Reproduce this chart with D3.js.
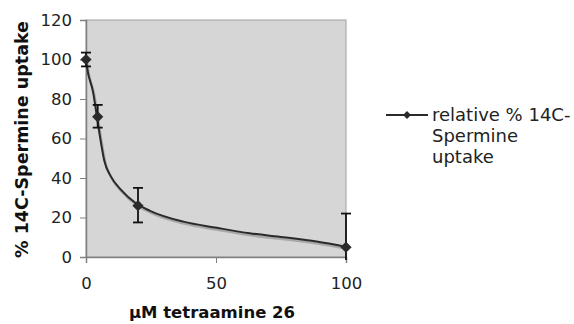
<!DOCTYPE html>
<html>
<head>
<meta charset="utf-8">
<script src="https://cdn.jsdelivr.net/npm/d3@7.9.0/dist/d3.min.js"></script>
<style>
  body { margin: 0; background: #fff; }
  svg { font-family: "DejaVu Sans", Verdana, sans-serif; }
</style>
</head>
<body>
<div id="chart"></div>
<script>
// measured points
const concentration = [0, 4.5, 20, 100];
const uptake = [100, 71, 26, 5];
const errUp = [3.5, 6, 9, 17];
const errDown = [3.5, 5.5, 8.5, 17];

// smooth trend curve
const fitX = [0, 0.4, 2.8, 4.2, 5.8, 7, 9.6, 13.5, 19.2, 24.6, 37.4, 50.3, 63, 75.9, 88.7, 100];
const fitY = [100, 96, 83, 71, 57.6, 49, 40.7, 34, 27.2, 23.4, 17.9, 14.8, 12, 10, 7.8, 5.2];

const yTicks = [0, 20, 40, 60, 80, 100, 120];
const xTicks = [0, 50, 100];

const width = 574, height = 324;
const plot = { left: 86, top: 20, right: 346, bottom: 257 };

const svg = d3.select('#chart')
  .append('svg')
  .attr('width', width)
  .attr('height', height);

const x = d3.scaleLinear().domain([0, 100]).range([plot.left, plot.right]);
const y = d3.scaleLinear().domain([0, 120]).range([plot.bottom, plot.top]);

// plot area
svg.append('rect')
  .attr('x', plot.left)
  .attr('y', plot.top)
  .attr('width', plot.right - plot.left)
  .attr('height', plot.bottom - plot.top)
  .attr('fill', '#d6d6d6')
  .attr('stroke', '#a0a0a0')
  .attr('stroke-width', 1);

// axes
const yAxis = svg.append('g')
  .attr('transform', `translate(${plot.left},0)`)
  .call(d3.axisLeft(y).tickValues(yTicks).tickSize(6).tickPadding(8));

const xAxis = svg.append('g')
  .attr('transform', `translate(0,${plot.bottom})`)
  .call(d3.axisBottom(x).tickValues(xTicks).tickSize(6).tickPadding(14));

[yAxis, xAxis].forEach(g => {
  g.select('.domain').attr('stroke', '#808080').attr('stroke-width', 1.5);
  g.selectAll('.tick line').attr('stroke', '#808080');
  g.selectAll('.tick text')
    .attr('fill', '#222')
    .style('font-size', '16.5px')
    .style('font-family', '"DejaVu Sans", Verdana, sans-serif');
});

// trend curve with soft shadow
const line = d3.line()
  .x((d, i) => x(fitX[i]))
  .y(d => y(d))
  .curve(d3.curveMonotoneX);

svg.append('path')
  .datum(fitY)
  .attr('d', line)
  .attr('fill', 'none')
  .attr('stroke', '#a8a8a8')
  .attr('stroke-width', 2.5)
  .attr('transform', 'translate(1,2)');

svg.append('path')
  .datum(fitY)
  .attr('d', line)
  .attr('fill', 'none')
  .attr('stroke', '#2a2a2a')
  .attr('stroke-width', 2);

// error bars
const cap = 5;
const eb = svg.append('g').attr('stroke', '#111').attr('stroke-width', 1.8);
concentration.forEach((c, i) => {
  const hi = uptake[i] + errUp[i];
  const lo = Math.max(uptake[i] - errDown[i], -1.5);
  eb.append('line')
    .attr('x1', x(c)).attr('x2', x(c))
    .attr('y1', y(hi)).attr('y2', y(lo));
  eb.append('line')
    .attr('x1', x(c) - cap).attr('x2', x(c) + cap)
    .attr('y1', y(hi)).attr('y2', y(hi));
  if (uptake[i] - errDown[i] >= 0) {
    eb.append('line')
      .attr('x1', x(c) - cap).attr('x2', x(c) + cap)
      .attr('y1', y(lo)).attr('y2', y(lo));
  }
});

// markers
const diamond = d3.symbol().type(d3.symbolDiamond2).size(80);
svg.append('g')
  .selectAll('path')
  .data(concentration)
  .join('path')
  .attr('d', diamond)
  .attr('transform', (d, i) => `translate(${x(d)},${y(uptake[i])})`)
  .attr('fill', '#2a2a2a');

// axis titles
svg.append('text')
  .attr('x', (plot.left + plot.right) / 2 - 4)
  .attr('y', 318)
  .attr('text-anchor', 'middle')
  .attr('font-size', 16.5)
  .attr('font-weight', 'bold')
  .attr('fill', '#111')
  .text('\u03bcM tetraamine 26');

svg.append('text')
  .attr('transform', `translate(28,${(plot.top + plot.bottom) / 2 + 1}) rotate(-90)`)
  .attr('text-anchor', 'middle')
  .attr('font-size', 17.5)
  .attr('font-weight', 'bold')
  .attr('fill', '#111')
  .text('% 14C-Spermine uptake');

// legend
const lg = svg.append('g').attr('transform', 'translate(386,115)');
lg.append('line')
  .attr('x1', 0).attr('x2', 42)
  .attr('y1', 0).attr('y2', 0)
  .attr('stroke', '#2a2a2a').attr('stroke-width', 2);
lg.append('path')
  .attr('d', d3.symbol().type(d3.symbolDiamond2).size(40))
  .attr('transform', 'translate(21,0)')
  .attr('fill', '#2a2a2a');
const legendLines = ['relative % 14C-', 'Spermine', 'uptake'];
lg.selectAll('text.leg')
  .data(legendLines)
  .join('text')
  .attr('class', 'leg')
  .attr('x', 46)
  .attr('y', (d, i) => 6 + i * 21)
  .attr('font-size', 18)
  .attr('fill', '#222')
  .text(d => d);
</script>
</body>
</html>
